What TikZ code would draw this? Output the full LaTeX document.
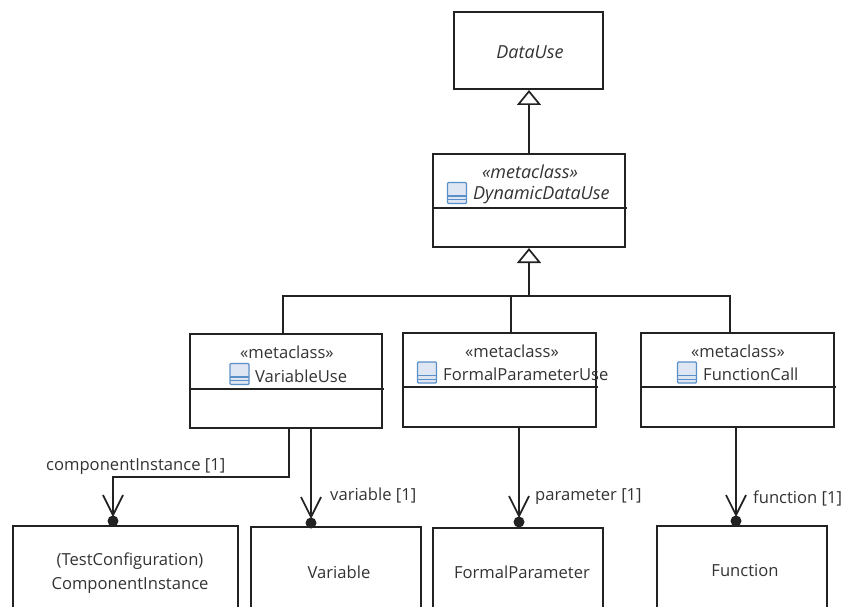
\documentclass[tikz,border=0pt]{standalone}
\usepackage{fontspec}
\setmainfont{Open Sans}
\usetikzlibrary{arrows.meta,positioning}
\definecolor{ink}{HTML}{222222}
\definecolor{txt}{HTML}{333333}
\definecolor{iconblue}{HTML}{5B8FC7}
\definecolor{iconfill}{HTML}{DDE6F2}
\tikzset{
  x=1pt,y=-1pt,
  line/.style={draw=ink,line width=1.7pt},
  boxnode/.style={line,rectangle,anchor=north west,inner sep=0pt,outer sep=0pt},
  lbl/.style={text=txt,font=\fontsize{16.6}{24}\selectfont,inner sep=0pt},
  ilbl/.style={text=txt,font=\fontsize{18}{24}\selectfont\itshape,inner sep=0pt},
  gen/.style={line,-{Triangle[open,fill=white,length=15pt,width=24pt,line width=1.7pt]}},
  assoc/.style={line,shorten >=4pt,-{Straight Barb[length=20pt,width=20pt,line width=1.7pt]}},
  enddot/.style={circle,fill=ink,minimum size=11pt,inner sep=0pt},
  dividerline/.style={draw=ink,line width=1.7pt},
}
\newcommand{\classicon}[1]{%
  \begin{scope}[shift={(#1)}]
    \fill[iconfill,rounded corners=1pt] (-9.5,-10.5) rectangle (9.5,10.5);
    \draw[iconblue,line width=1.2pt,rounded corners=1pt] (-9.5,-10.5) rectangle (9.5,10.5);
    \draw[iconblue,line width=1.2pt] (-9.5,3) -- (9.5,3) (-9.5,6.8) -- (9.5,6.8);
  \end{scope}}
\begin{document}
\begin{tikzpicture}
\useasboundingbox (0,0) rectangle (849,607);
% classes
\node[boxnode,minimum width=149pt,minimum height=77pt] (datause) at (454,12) {};
\node[ilbl] (datauselabel) at (530,52) {DataUse};
\node[boxnode,minimum width=192pt,minimum height=93pt] (dyn) at (433,154) {};
\node[boxnode,minimum width=192pt,minimum height=94pt] (varuse) at (190,334) {};
\node[boxnode,minimum width=193pt,minimum height=94pt] (fpuse) at (403,333) {};
\node[boxnode,minimum width=193pt,minimum height=94pt] (fcall) at (641,333) {};
\draw[dividerline] (433,208) -- (627,208);
\draw[dividerline] (190,389) -- (384,389);
\draw[dividerline] (403,387) -- (598,387);
\draw[dividerline] (641,387) -- (836,387);
\node[ilbl] (s1) at (530,172) {«metaclass»};
\node[lbl] (s2) at (287,352) {«metaclass»};
\node[lbl] (s3) at (512,351) {«metaclass»};
\node[lbl] (s4) at (738,351) {«metaclass»};
\classicon{457,193}
\node[ilbl,anchor=west] (n1) at (473,195) {DynamicDataUse};
\classicon{239.5,374}
\node[lbl,anchor=west] (n2) at (255,376) {VariableUse};
\classicon{427,372.5}
\node[lbl,anchor=west] (n3) at (443,374) {FormalParameterUse};
\classicon{687,372.5}
\node[lbl,anchor=west] (n4) at (703,374) {FunctionCall};
% targets (they run past the lower edge)
\node[boxnode,minimum width=225pt,minimum height=100pt] (ci) at (13,526) {};
\node[boxnode,minimum width=170pt,minimum height=100pt] (var) at (251,527) {};
\node[boxnode,minimum width=170pt,minimum height=100pt] (fp) at (433,528) {};
\node[boxnode,minimum width=170pt,minimum height=100pt] (fn) at (657,526) {};
\node[lbl,align=center] (citext) at (130,573) {(TestConfiguration)\\ComponentInstance};
\node[lbl] (vartext) at (339,572) {Variable};
\node[lbl] (fptext) at (522,572) {FormalParameter};
\node[lbl] (fntext) at (745,570) {Function};
% generalisations
\coordinate (bus) at (529,296);
\coordinate (top) at (529,90);
\coordinate (mid) at (529,154);
\coordinate (low) at (529,248);
\draw[gen] (mid) -- (top);
\draw[gen] (bus) -- (low);
\draw[line] (283,334) -- (283,296) -- (730,296) -- (730,333);
\draw[line] (511,296) -- (511,333);
% associations
\coordinate (a1) at (289,428);
\coordinate (e1) at (113,521);
\coordinate (e2) at (311,523);
\coordinate (e3) at (519,522);
\coordinate (e4) at (736,521);
\draw[assoc] (a1) -- (289,477) -- (113,477) -- (e1);
\draw[assoc] (e2 |- varuse.south) -- (e2);
\draw[assoc] (e3 |- fpuse.south) -- (e3);
\draw[assoc] (e4 |- fcall.south) -- (e4);
\node[enddot] (d1) at (e1) {};
\node[enddot] (d2) at (e2) {};
\node[enddot] (d3) at (e3) {};
\node[enddot] (d4) at (e4) {};
\node[lbl,anchor=west] (l1) at (46,467) {componentInstance [1]};
\node[lbl,anchor=west] (l2) at (330,496) {variable [1]};
\node[lbl,anchor=west] (l3) at (535,497) {parameter [1]};
\node[lbl,anchor=west] (l4) at (753,498) {function [1]};
\end{tikzpicture}
\end{document}
